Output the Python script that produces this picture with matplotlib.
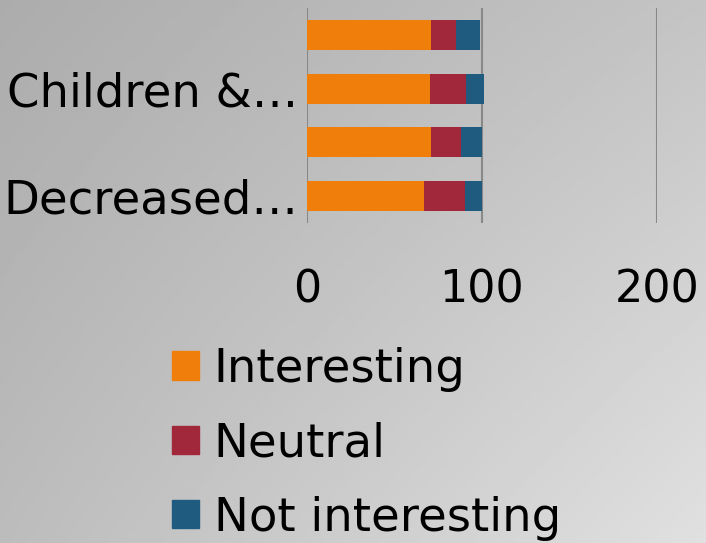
import numpy as np
import matplotlib
matplotlib.use("Agg")
import matplotlib.pyplot as plt
from matplotlib.patches import Patch

# data (bottom to top)
categories = ["Decreased…", "", "Children &…", ""]
interesting = [67, 71, 70, 71]
neutral = [23, 17, 21, 14]
not_interesting = [10, 12, 10, 14]

series_names = ["Interesting", "Neutral", "Not interesting"]
colours = ["#EF7F0A", "#A0283A", "#1F5A7F"]

W, H = 706, 543
fig = plt.figure(figsize=(W / 100, H / 100), dpi=100)

# gradient background
bg = fig.add_axes([0, 0, 1, 1], zorder=-10)
xx, yy = np.meshgrid(np.linspace(0, 1, 200), np.linspace(0, 1, 200))
tl, tr, bl, br = 172, 196, 188, 224
grad = (tl * (1 - xx) * (1 - yy) + tr * xx * (1 - yy)
        + bl * (1 - xx) * yy + br * xx * yy) / 255.0
bg.imshow(grad, cmap="gray", vmin=0, vmax=1, aspect="auto",
          extent=[0, 1, 1, 0], interpolation="bilinear")
bg.axis("off")

ax = fig.add_axes([307 / W, 1 - 223 / H, 350 / W, 215 / H])
ax.patch.set_alpha(0)

y = np.arange(len(categories))
left = np.zeros(len(categories))
for vals, name, col in zip([interesting, neutral, not_interesting], series_names, colours):
    ax.barh(y, vals, left=left, height=0.56, color=col, label=name, zorder=3)
    left += np.array(vals)

ax.set_xlim(0, 200)
ax.set_ylim(-0.5, 3.5)
ax.set_xticks([0, 100, 200])
ax.set_yticks([0, 2])
ax.set_yticklabels([categories[0], categories[2]])
ax.grid(axis="x", color="#888888", linewidth=1.5, zorder=1)
for s in ax.spines.values():
    s.set_visible(False)
ax.tick_params(axis="x", length=0, pad=33, labelsize=32)
ax.tick_params(axis="y", length=0, pad=6.5, labelsize=33.5)

handles = [Patch(color=c, label=n) for c, n in zip(colours, series_names)]
fig.legend(handles=handles, loc="upper left",
           bbox_to_anchor=(172 / W, 1 - 347 / H), frameon=False,
           fontsize=33.5, handlelength=0.58, handleheight=0.56,
           handletextpad=0.32, labelspacing=0.63, borderpad=0,
           borderaxespad=0)

plt.savefig("out.png", dpi=100)
plt.close()
